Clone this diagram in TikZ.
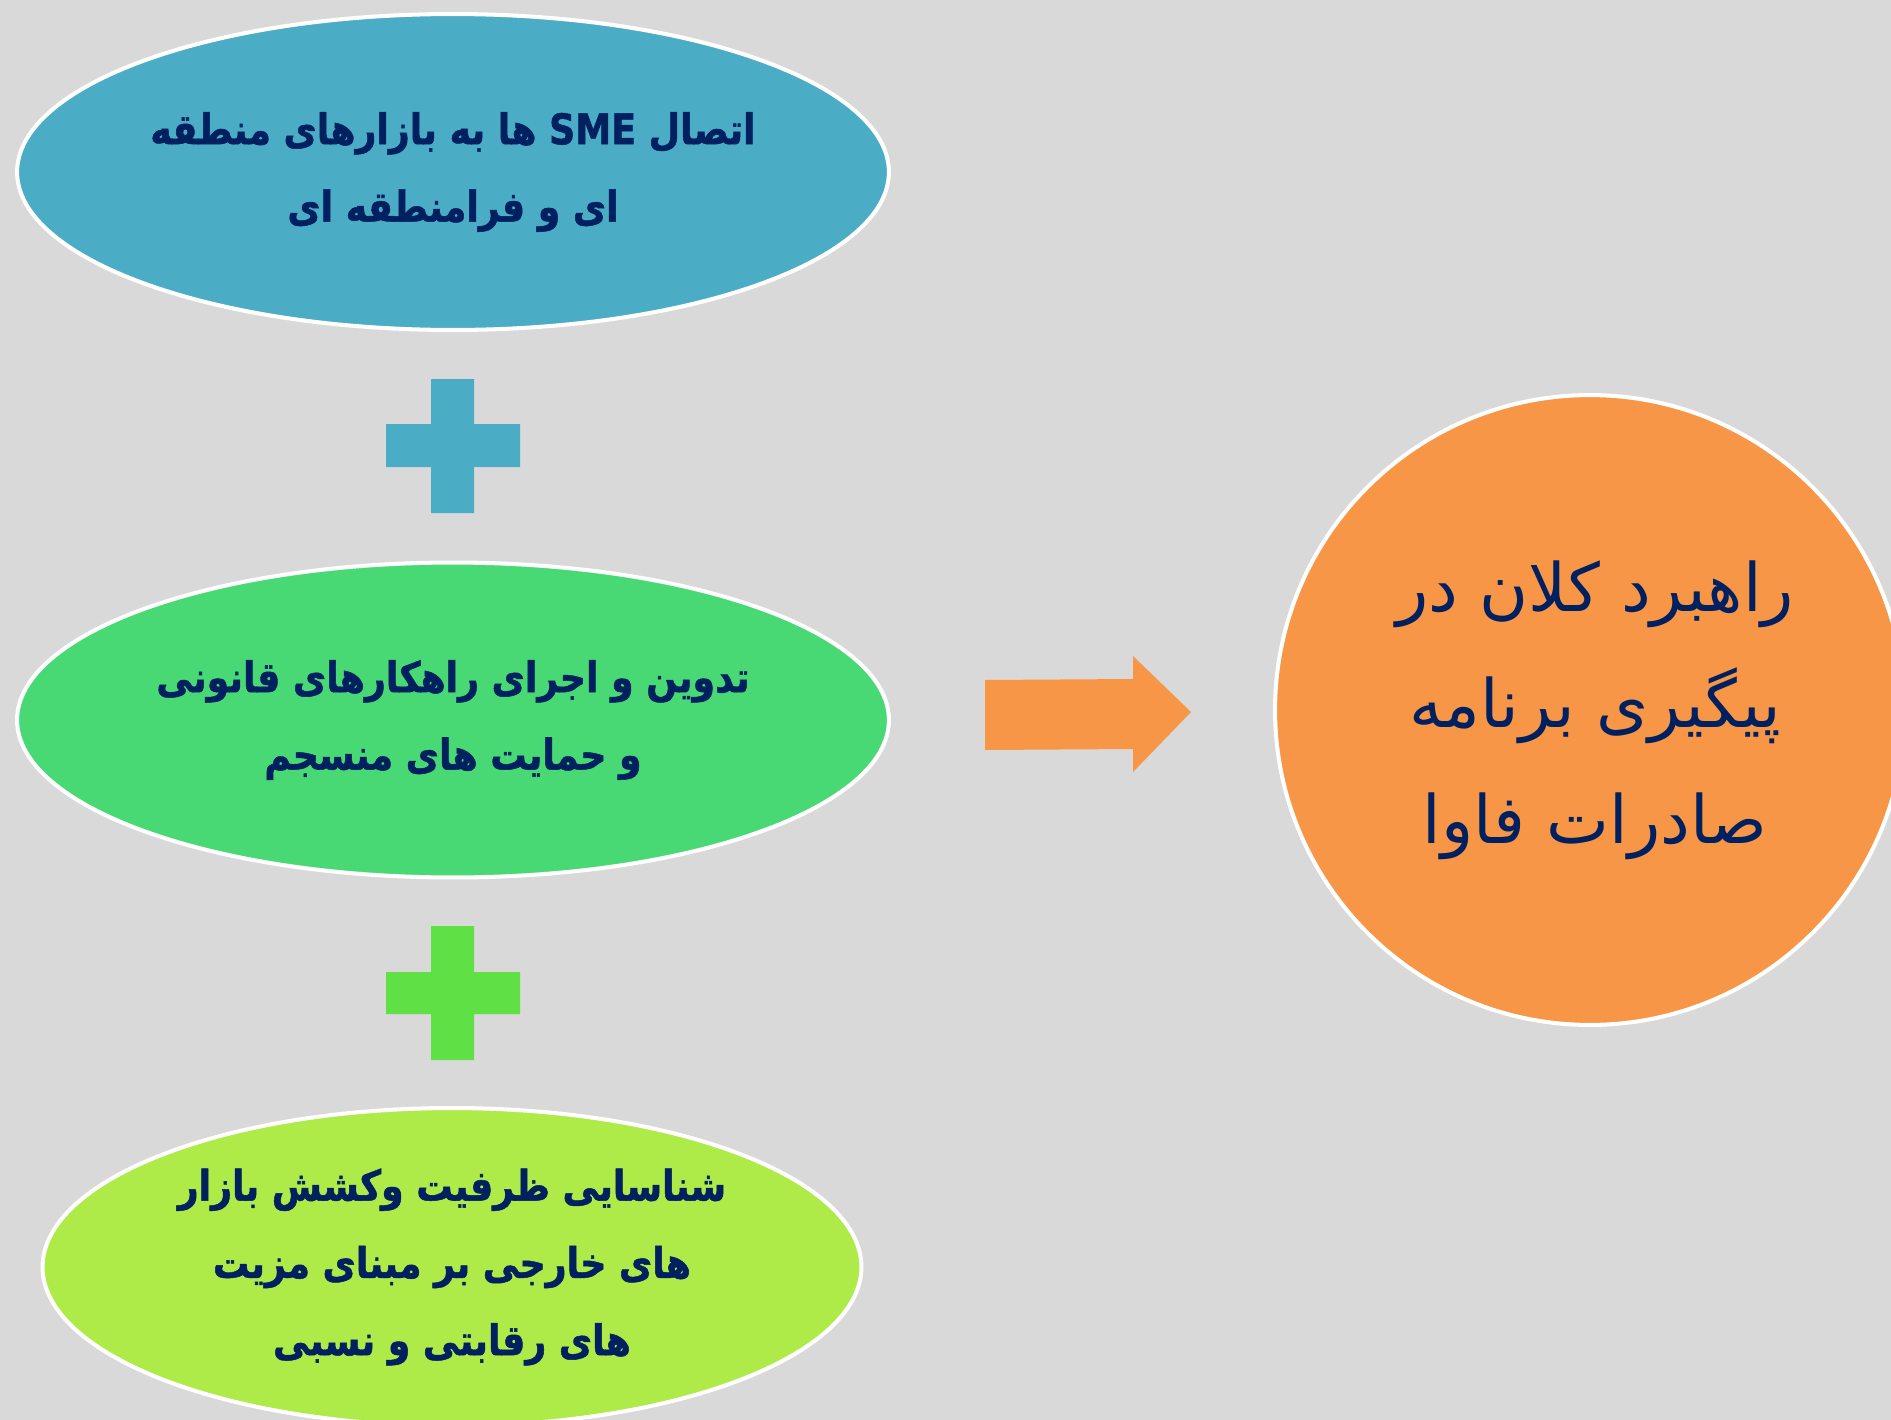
\documentclass[tikz,border=0pt]{standalone}
\usepackage{fontspec}
\usetikzlibrary{shapes.geometric}
\TeXXeTstate=1
\newfontfamily\arabicfont[Script=Arabic]{DejaVu Sans}
\newfontfamily\arabicnarrow[Script=Arabic,FakeStretch=0.86,FakeBold=1.2]{DejaVu Sans}
\definecolor{bg}{HTML}{D9D9D9}
\definecolor{cblue}{HTML}{4BACC6}
\definecolor{cgreen}{HTML}{49D974}
\definecolor{clime}{HTML}{AEEA48}
\definecolor{cplus}{HTML}{5FE044}
\definecolor{corange}{HTML}{F79646}
\definecolor{navy}{HTML}{002060}
\tikzset{
  bubble/.style={ellipse, draw=white, line width=2.3pt, inner sep=0pt},
  bubbletext/.style={inner sep=0pt, text=navy, align=center,
    font=\arabicnarrow\bfseries\fontsize{24}{44}\selectfont},
  goal/.style={circle, draw=white, line width=2.3pt, inner sep=0pt, fill=corange},
  goaltext/.style={inner sep=0pt, text=navy, align=center,
    font=\arabicfont\fontsize{38}{66}\selectfont},
}
\begin{document}
\begin{tikzpicture}[x=0.02cm,y=-0.02cm]
\fill[bg] (0,0) rectangle (1891,1420);
\useasboundingbox (0,0) rectangle (1891,1420);
\clip (0,0) rectangle (1891,1420);

\node[bubble, fill=cblue, minimum width=17.44cm, minimum height=6.32cm] (n1) at (453,172) {};
\node[bubbletext] (t1) at (n1.center)
  {\beginR اتصال \beginL SME\endL{} ها به بازارهای منطقه\endR\\ \beginR ای و فرامنطقه ای\endR};

\fill[cblue] (431,379) rectangle (474,513) (386,424) rectangle (520,467);

\node[bubble, fill=cgreen, minimum width=17.44cm, minimum height=6.3cm] (n2) at (453,720) {};
\node[bubbletext] (t2) at (n2.center)
  {\beginR تدوین و اجرای راهکارهای قانونی\endR\\ \beginR و حمایت های منسجم\endR};

\fill[cplus] (431,926) rectangle (474,1060) (386,972) rectangle (520,1014);

\node[bubble, fill=clime, minimum width=16.38cm, minimum height=6.36cm] (n3) at (452,1267) {};
\node[bubbletext] (t3) at (n3.center)
  {\beginR شناسایی ظرفیت وکشش بازار\endR\\ \beginR های خارجی بر مبنای مزیت\endR\\ \beginR های رقابتی و نسبی\endR};

\node[goal, minimum size=12.6cm] (g) at (1590,710) {};
\node[goaltext] (gt) at ([xshift=0.1cm]g.center)
  {\beginR راهبرد کلان در\endR\\ \beginR پیگیری برنامه\endR\\ \beginR صادرات فاوا\endR};

\fill[corange] (985,680) -- (1133,679) -- (1133,656) -- (1191,712) -- (1133,772) -- (1133,749) -- (985,750) -- cycle;
\end{tikzpicture}
\end{document}
